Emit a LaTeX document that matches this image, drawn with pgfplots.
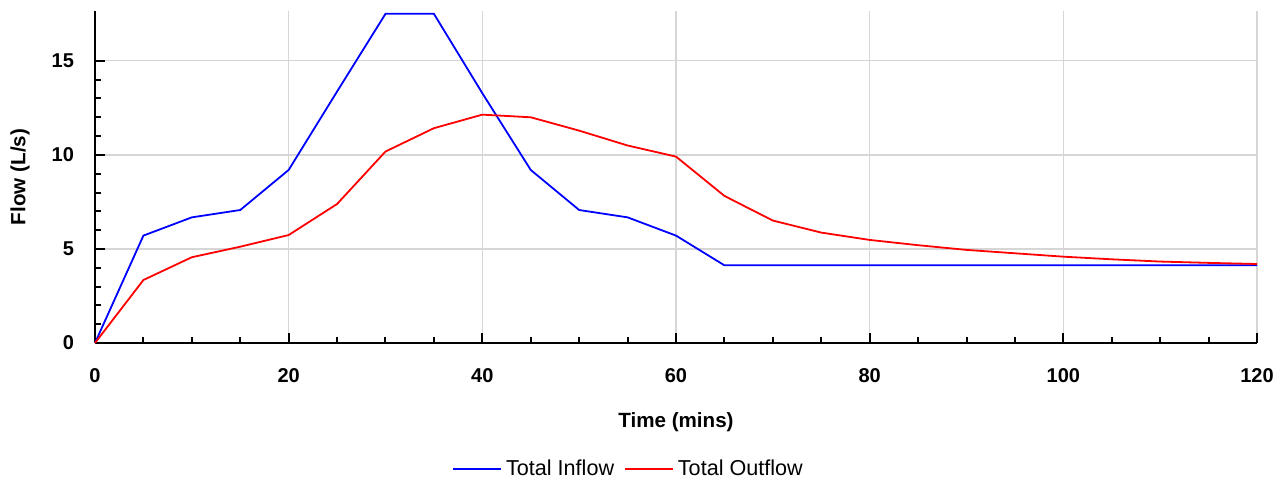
\documentclass[border=0pt]{standalone}
\usepackage{fontspec}
\setmainfont{Liberation Sans}
\usepackage{pgfplots}
\pgfplotsset{compat=1.18}
\definecolor{gridgray}{RGB}{214,214,214}

\begin{document}
\begin{tikzpicture}
\begin{axis}[
  name=ax, at={(0,0)}, anchor=south west,
  scale only axis,
  width=581pt, height=166pt,
  xmin=0, xmax=120, ymin=0, ymax=17.65,
  axis x line=bottom, axis y line=left,
  axis line style={-, line width=1.4pt},
  xtick={0,20,...,120}, minor x tick num=3,
  ytick={0,5,10,15}, minor y tick num=4,
  tick align=inside,
  major tick length=5pt, minor tick length=3pt,
  tick style={black, line width=1pt},
  xmajorgrids, ymajorgrids,
  major grid style={gridgray, line width=0.6pt},
  /pgf/number format/assume math mode=true,
  ticklabel style={font=\fontsize{10}{12}\selectfont\bfseries},
  xticklabel style={anchor=center, yshift=-16.5pt},
  yticklabel style={xshift=-7pt},
  xlabel={Time (mins)}, ylabel={Flow (L/s)},
  label style={font=\fontsize{10.3}{12}\selectfont\bfseries},
  xlabel style={at={(axis description cs:0.5,0)}, anchor=center, yshift=-39.5pt},
  ylabel style={at={(axis description cs:0,0.5)}, anchor=center, yshift=37.5pt},
  legend columns=2,
  legend style={draw=none, fill=none, font=\fontsize{10.8}{12}\selectfont,
    at={(axis description cs:0.46,0)}, anchor=center, yshift=-63pt,
    /tikz/every even column/.append style={column sep=3pt}},
  legend image code/.code={\draw[#1] (0pt,0pt) -- (24pt,0pt);},
  every axis plot/.append style={line width=0.9pt, mark=none},
  clip=false,
]
\addplot[blue] coordinates {
  (0,0) (5,5.71) (10,6.68) (15,7.07) (20,9.2) (25,13.37) (30,17.5)
  (35,17.5) (40,13.28) (45,9.2) (50,7.07) (55,6.68) (60,5.71) (65,4.13)
  (70,4.13) (75,4.13) (80,4.13) (85,4.13) (90,4.13) (95,4.13) (100,4.13)
  (105,4.13) (110,4.13) (115,4.13) (120,4.13)
};
\addplot[red] coordinates {
  (0,0) (5,3.35) (10,4.56) (15,5.12) (20,5.74) (25,7.39) (30,10.18)
  (35,11.42) (40,12.14) (45,12.0) (50,11.29) (55,10.5) (60,9.91) (65,7.82)
  (70,6.51) (75,5.87) (80,5.48) (85,5.2) (90,4.95) (95,4.77) (100,4.59)
  (105,4.45) (110,4.33) (115,4.26) (120,4.2)
};
\legend{Total Inflow, Total Outflow}
\end{axis}
\pgfresetboundingbox
\path (ax.south west) ++(-47.5pt,-70.5pt) rectangle ++(643.5pt,242pt);
\end{tikzpicture}
\end{document}
